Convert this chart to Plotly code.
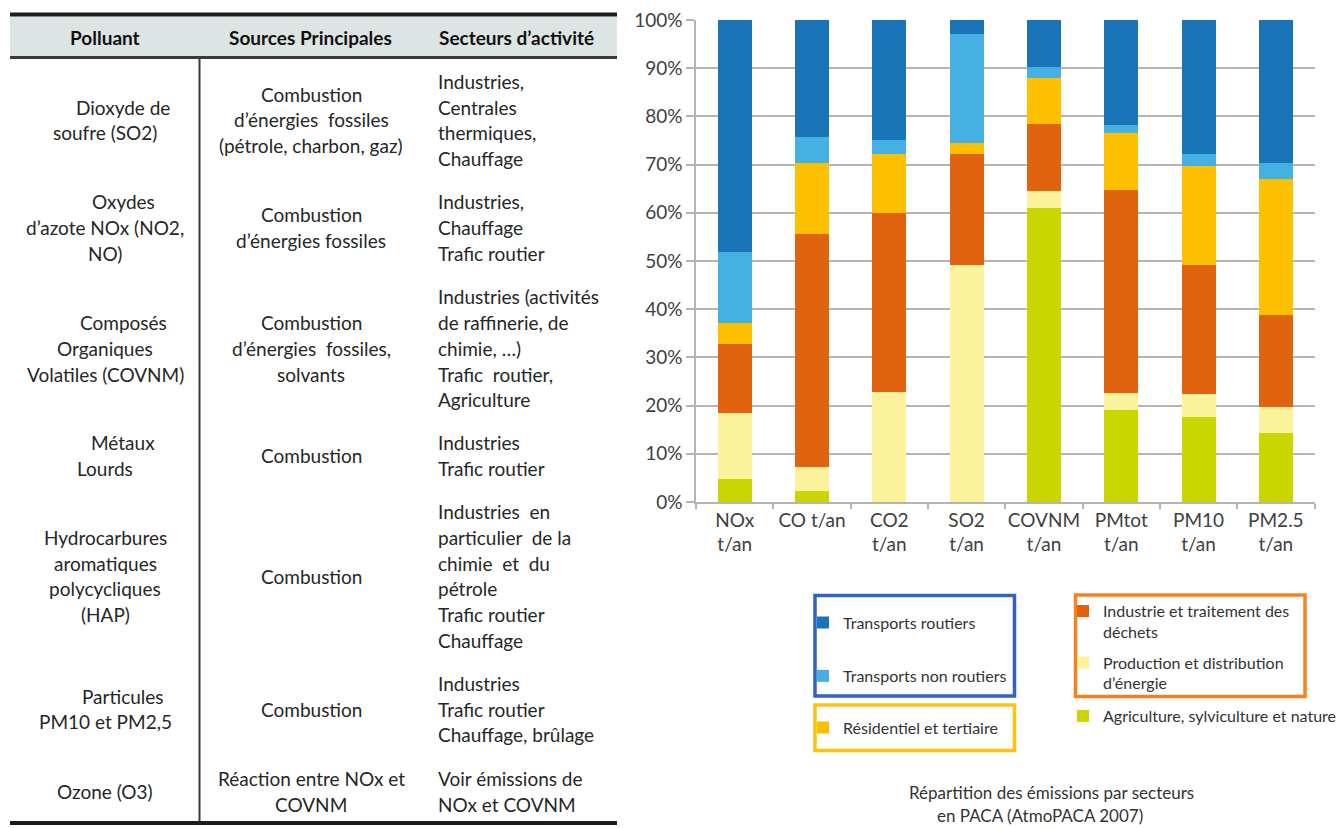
import plotly.graph_objects as go

W, H = 1343, 828

# ---------------- chart data: share of emissions (%) per sector ----------------
pollutants = ["NOx t/an", "CO t/an", "CO2 t/an", "SO2 t/an",
              "COVNM t/an", "PMtot t/an", "PM10 t/an", "PM2.5 t/an"]
tick_labels = ["NOx<br>t/an", "CO t/an", "CO2<br>t/an", "SO2<br>t/an",
               "COVNM<br>t/an", "PMtot<br>t/an", "PM10<br>t/an", "PM2.5<br>t/an"]

agriculture = [4.7, 2.2, 0.0, 0.0, 60.9, 19.1, 17.7, 14.4]
production = [13.7, 5.1, 22.9, 49.2, 3.7, 3.6, 4.7, 5.4]
industrie = [14.3, 48.2, 37.0, 23.0, 13.8, 42.0, 26.8, 19.1]
residentiel = [4.5, 14.8, 12.4, 2.2, 9.6, 11.9, 20.6, 28.1]
transports_non_routiers = [14.6, 5.5, 2.9, 22.8, 2.3, 1.6, 2.4, 3.3]
transports_routiers = [48.2, 24.2, 24.8, 2.8, 9.7, 21.8, 27.8, 29.7]

sector_names = [
    "Agriculture, sylviculture et nature",
    "Production et distribution<br>d’énergie",
    "Industrie et traitement des<br>déchets",
    "Résidentiel et tertiaire",
    "Transports non routiers",
    "Transports routiers",
]
chart_title = ["Répartition des émissions par secteurs", "en PACA (AtmoPACA 2007)"]

# ---------------- table content ----------------
table_header = ["Polluant", "Sources Principales", "Secteurs d’activité"]
col_polluant = [
    ["Dioxyde de", "soufre (SO2)"],
    ["Oxydes", "d’azote NOx (NO2,", "NO)"],
    ["Composés", "Organiques", "Volatiles (COVNM)"],
    ["Métaux", "Lourds"],
    ["Hydrocarbures", "aromatiques", "polycycliques", "(HAP)"],
    ["Particules", "PM10 et PM2,5"],
    ["Ozone (O3)"],
]
col_sources = [
    ["Combustion", "d’énergies  fossiles", "(pétrole, charbon, gaz)"],
    ["Combustion", "d’énergies fossiles"],
    ["Combustion", "d’énergies  fossiles,", "solvants"],
    ["Combustion"],
    ["Combustion"],
    ["Combustion"],
    ["Réaction entre NOx et", "COVNM"],
]
col_secteurs = [
    ["Industries,", "Centrales", "thermiques,", "Chauffage"],
    ["Industries,", "Chauffage", "Trafic routier"],
    ["Industries (activités", "de raffinerie, de", "chimie, …)", "Trafic  routier,", "Agriculture"],
    ["Industries", "Trafic routier"],
    ["Industries  en", "particulier  de la", "chimie  et  du", "pétrole", "Trafic routier", "Chauffage"],
    ["Industries", "Trafic routier", "Chauffage, brûlage"],
    ["Voir émissions de", "NOx et COVNM"],
]

# ---------------- styling ----------------
FONT = "Lato"
sector_colors = ["#cbd500", "#fdf29c", "#e2630f", "#fdc000", "#45b0e2", "#1a74b8"]
sector_values = [agriculture, production, industrie, residentiel,
                 transports_non_routiers, transports_routiers]
sector_legends = ["legend6", "legend5", "legend4", "legend3", "legend2", "legend"]


def px(x):
    return x / W


def py(y):
    return 1 - y / H


fig = go.Figure()
for name, vals, col, leg in zip(sector_names, sector_values, sector_colors, sector_legends):
    fig.add_trace(go.Bar(
        x=pollutants, y=vals, name=name, marker=dict(color=col, line=dict(width=0)),
        width=0.44, legend=leg, hoverinfo="skip",
    ))

shapes = []
annotations = []

# table rules and header band
shapes.append(dict(type="rect", xref="paper", yref="paper", x0=px(10), x1=px(617),
                   y0=py(57), y1=py(16.5), fillcolor="#dde5e4", line=dict(width=0), layer="below"))
shapes.append(dict(type="line", xref="paper", yref="paper", x0=px(10), x1=px(617),
                   y0=py(14.5), y1=py(14.5), line=dict(color="#1c1c1c", width=4)))
shapes.append(dict(type="line", xref="paper", yref="paper", x0=px(10), x1=px(617),
                   y0=py(57.5), y1=py(57.5), line=dict(color="#3a3a3a", width=3)))
shapes.append(dict(type="line", xref="paper", yref="paper", x0=px(199.5), x1=px(199.5),
                   y0=py(59), y1=py(821), line=dict(color="#3a3a3a", width=2)))
shapes.append(dict(type="line", xref="paper", yref="paper", x0=px(10), x1=px(617),
                   y0=py(823), y1=py(823), line=dict(color="#1c1c1c", width=4)))

# table text
header_pos = [(105, "center"), (310, "center"), (437, "left")]
for txt, (x, anc) in zip(table_header, header_pos):
    annotations.append(dict(text="<b>" + txt + "</b>", x=px(x), y=py(38), xref="paper", yref="paper",
                            xanchor=anc, yanchor="middle", showarrow=False,
                            font=dict(family=FONT, size=19, color="#111111")))

row_centers = [120, 227.7, 348.3, 455.5, 576, 709, 791.5]
line_step = 25.7
first_line_indent = [18, 18, 18, 18, 0, 18, 0]
columns = [(col_polluant, 105, "center"), (col_sources, 311, "center"), (col_secteurs, 436, "left")]
for cells, cx, anc in columns:
    for r, lines in enumerate(cells):
        n = len(lines)
        for k, line in enumerate(lines):
            x = cx
            if cells is col_polluant and k == 0:
                x += first_line_indent[r]
            y = row_centers[r] + (k - (n - 1) / 2) * line_step
            annotations.append(dict(text=line, x=px(x), y=py(y), xref="paper", yref="paper",
                                    xanchor=anc, yanchor="middle", showarrow=False,
                                    font=dict(family=FONT, size=19, color="#262626")))

# legend frames
shapes.append(dict(type="rect", xref="paper", yref="paper", x0=px(815), x1=px(1014.5),
                   y0=py(696), y1=py(595.5), line=dict(color="#3263c3", width=3.5)))
shapes.append(dict(type="rect", xref="paper", yref="paper", x0=px(815), x1=px(1014.5),
                   y0=py(750.5), y1=py(705), line=dict(color="#ffc20e", width=3.5)))
shapes.append(dict(type="rect", xref="paper", yref="paper", x0=px(1075.5), x1=px(1305),
                   y0=py(696.5), y1=py(595), line=dict(color="#f6821f", width=3.5)))

# chart caption
for txt, (x, y) in zip(chart_title, [(1051, 792), (1040, 815)]):
    annotations.append(dict(text=txt, x=px(x), y=py(y), xref="paper", yref="paper",
                            xanchor="center", yanchor="middle", showarrow=False,
                            font=dict(family=FONT, size=17, color="#333333")))

legend_font = dict(family=FONT, size=16, color="#333333")
leg_x_text = {"legend": 843, "legend2": 843, "legend3": 843,
              "legend4": 1103, "legend5": 1103, "legend6": 1103}
leg_y = {"legend": 622.5, "legend2": 676, "legend3": 727.5,
         "legend4": 621.7, "legend5": 673, "legend6": 716}
legends = {}
for key in leg_x_text:
    legends[key] = dict(x=px(leg_x_text[key] - 40), y=py(leg_y[key]), xanchor="left", yanchor="middle",
                        xref="container", yref="container",
                        bgcolor="rgba(0,0,0,0)", borderwidth=0, font=legend_font,
                        valign="top", itemclick=False, itemdoubleclick=False)

fig.update_layout(
    width=W, height=H, margin=dict(l=0, r=0, t=0, b=0, autoexpand=False),
    paper_bgcolor="white", plot_bgcolor="white",
    barmode="stack", bargap=0.56, showlegend=True,
    shapes=shapes, annotations=annotations,
    font=dict(family=FONT, color="#404040"),
    xaxis=dict(domain=[px(696), px(1314.5)], tickvals=pollutants, ticktext=tick_labels,
               showline=True, linecolor="#b4b4b4", linewidth=1.5, tickangle=0, automargin=False,
               ticks="outside", tickson="boundaries", ticklen=5, tickcolor="#b4b4b4", tickwidth=1.5,
               tickfont=dict(family=FONT, size=19, color="#404040"), showgrid=False,
               fixedrange=True),
    yaxis=dict(domain=[py(502), py(20)], range=[0, 100], dtick=10, ticksuffix="%", automargin=False,
               showline=True, linecolor="#b4b4b4", linewidth=1.5,
               showgrid=True, gridcolor="#b4b4b4", gridwidth=1.5, zeroline=False,
               ticks="outside", ticklen=8, tickcolor="#b4b4b4", tickwidth=1.5,
               tickfont=dict(family=FONT, size=19, color="#404040"), fixedrange=True),
    **legends,
)

fig.write_html("out.html")
